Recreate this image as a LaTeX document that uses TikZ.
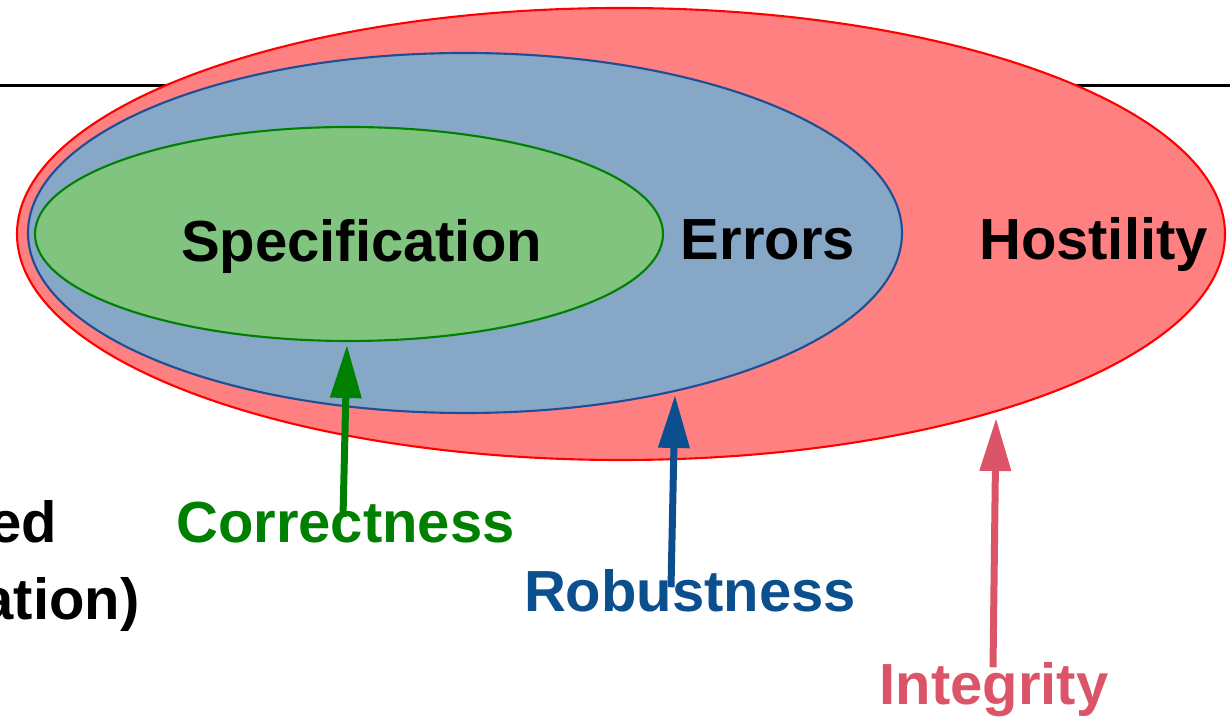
\documentclass[tikz,border=0pt]{standalone}
\usepackage{fontspec}
\setmainfont{Liberation Sans}
\usetikzlibrary{shapes.geometric, arrows.meta, positioning}
\definecolor{hostred}{RGB}{255,128,128}
\definecolor{errblue}{RGB}{135,167,199}
\definecolor{errline}{RGB}{30,78,150}
\definecolor{specgreen}{RGB}{128,196,128}
\definecolor{corrgreen}{RGB}{0,128,0}
\definecolor{robblue}{RGB}{11,79,143}
\definecolor{intpink}{RGB}{220,84,104}

\tikzset{
    setnode/.style={draw, ellipse, inner sep=0pt, line width=0.6pt},
    lbl/.style={anchor=base, inner sep=0pt, font=\fontsize{16.5}{20}\selectfont\bfseries},
    uparrow/.style={line width=0.07cm, -{Triangle[length=0.53cm, width=0.30cm]}}
}

\begin{document}
\begin{tikzpicture}
        \clip (0,0) rectangle (12.3,-7.17);
        \draw [line width=0.03cm] (0,-0.86) -- (12.3,-0.86);

        % nested sets
        \node[setnode, draw=red, fill=hostred, minimum width=12.08cm, minimum height=4.52cm] (H) at (6.21,-2.34) {};
        \node[setnode, draw=errline, fill=errblue, minimum width=8.74cm, minimum height=3.60cm] (E) at (4.65,-2.33) {};
        \node[setnode, draw=corrgreen, fill=specgreen, minimum width=6.28cm, minimum height=2.14cm] (S) at (3.49,-2.34) {};

        \node[lbl] (Slbl) at (3.615,-2.62) {Specification};
        \node[lbl] (Elbl) at (7.68,-2.60) {Errors};
        \node[lbl] (Hlbl) at (10.935,-2.60) {Hostility};

        % properties
        \node[lbl, text=corrgreen] (corr) at (3.455,-5.43) {Correctness};
        \node[lbl, text=robblue] (rob) at (6.90,-6.12) {Robustness};
        \node[lbl, text=intpink] (integ) at (9.94,-7.05) {Integrity};
        \node[lbl, anchor=base east] (left1) at (0.58,-5.43) {ed};
        \node[lbl, anchor=base east] (left2) at (1.40,-6.20) {ation)};

        \coordinate (corrtip) at (3.47,-3.45);
        \coordinate (robtip) at (6.75,-3.95);
        \coordinate (integtip) at (9.96,-4.18);

        \draw [uparrow, color=corrgreen] ([shift={(-0.025,-0.15)}]corr.north) -- (corrtip);
        \draw [uparrow, color=robblue] ([shift={(-0.19,-0.18)}]rob.north) -- (robtip);
        \draw [uparrow, color=intpink] ([shift={(-0.01,-0.05)}]integ.north) -- (integtip);
    \end{tikzpicture}
\end{document}
